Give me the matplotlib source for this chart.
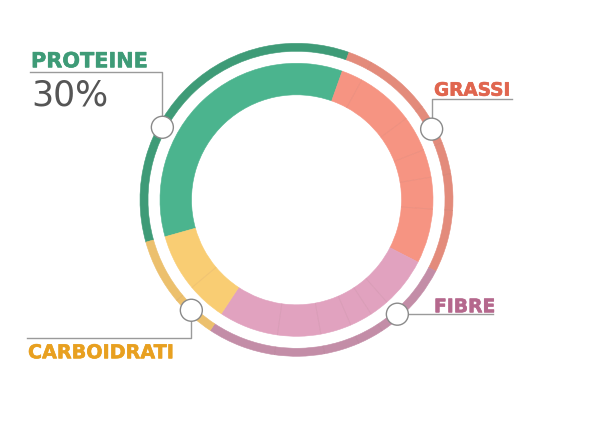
import numpy as np
import matplotlib
matplotlib.use("Agg")
import matplotlib.pyplot as plt
from matplotlib.patches import Circle
import matplotlib.patheffects as pe

# ---- data (shares of the ring, percent) ----
categories = ["PROTEINE", "GRASSI", "FIBRE", "CARBOIDRATI"]
proteine_parts = [34.8]
grassi_parts = [2.5, 6.9, 4.2, 3.3, 3.75, 6.45]
fibre_parts = [5.95, 2.3, 2.7, 3.65, 5.1, 7.05]
carboidrati_parts = [4.6, 6.75]
proteine_label = "30%"

# ---- styling ----
inner_colors = ["#4BB48E", "#F69482", "#E1A2BF", "#F9CD73"]
outer_colors = ["#3E9B77", "#E38B7B", "#C38DA7", "#ECC06D"]
text_colors = ["#3E9B77", "#E0664F", "#B5688D", "#E8A020"]
label_angles = [298.4, 62.4, 138.6, 223.6]   # clockwise from top, label anchor
start_cw = 254.3

W, H = 600, 429
fig = plt.figure(figsize=(6, 4.29), dpi=100)
ax = fig.add_axes([0, 0, 1, 1])
cx, cy = 296.5, H - 199.8

parts = [proteine_parts, grassi_parts, fibre_parts, carboidrati_parts]
vals, icols, ocols, cat_idx = [], [], [], []
for i, p in enumerate(parts):
    for v in p:
        vals.append(v)
        icols.append(inner_colors[i])
        ocols.append(outer_colors[i])
        cat_idx.append(i)
vals = np.array(vals)

r_in_out, r_in_w = 136.5, 31.5
r_out_out, r_out_w = 156.5, 8.0

for radius, width, cols in [(r_in_out, r_in_w, icols), (r_out_out, r_out_w, ocols)]:
    wedges, _ = ax.pie(vals, radius=radius, center=(cx, cy), startangle=90 - start_cw,
                       counterclock=False, colors=cols,
                       wedgeprops=dict(width=width, linewidth=0.4))
    for w, c in zip(wedges, cols):
        w.set_edgecolor(c)

# subtle sub-segment separators
total = vals.sum()
cum = np.cumsum(vals)[:-1]
for k, cval in enumerate(cum):
    if cat_idx[k] != cat_idx[k + 1]:
        continue
    th = np.deg2rad(start_cw + cval / total * 360.0)
    for r0, r1 in [(r_in_out - r_in_w, r_in_out), (r_out_out - r_out_w, r_out_out)]:
        ax.plot([cx + r0 * np.sin(th), cx + r1 * np.sin(th)],
                [cy + r0 * np.cos(th), cy + r1 * np.cos(th)],
                color="#7a4a4a", alpha=0.08, lw=0.7, solid_capstyle="butt")

# label anchors
r_mark = 152.5
line_col = "#9a9a9a"
pts = []
for a in label_angles:
    t = np.deg2rad(a)
    pts.append((cx + r_mark * np.sin(t), cy + r_mark * np.cos(t)))

# leaders
(px, py), (gx, gy), (fx, fy), (kx, ky) = pts
ax.plot([px, px, 30], [py, H - 72.3, H - 72.3], color=line_col, lw=1.0, zorder=3)
ax.plot([gx, gx, 511.7], [gy, H - 99.3, H - 99.3], color=line_col, lw=1.0, zorder=3)
ax.plot([fx, 493.3], [fy, fy], color=line_col, lw=1.0, zorder=3)
ax.plot([kx, kx, 27.3], [ky, H - 338.3, H - 338.3], color=line_col, lw=1.0, zorder=3)

for (x, y) in pts:
    ax.add_patch(Circle((x, y), 11, facecolor="white", edgecolor="#8a8a8a", lw=1.0, zorder=4))

# texts
def label(x, y, s, color, size):
    ax.text(x, y, s, color=color, fontsize=size, fontweight="bold",
            family="DejaVu Sans", ha="left", va="baseline",
            path_effects=[pe.withStroke(linewidth=0.4, foreground=color)])

label(31, H - 67.3, categories[0], text_colors[0], 15)
ax.text(31, H - 105, proteine_label, color="#555555", fontsize=25,
        family="DejaVu Sans", ha="left", va="baseline")
label(434, H - 95.7, categories[1], text_colors[1], 13.3)
label(434, H - 312.3, categories[2], text_colors[2], 13.5)
label(28, H - 358.3, categories[3], text_colors[3], 13.8)

ax.set_xlim(0, W)
ax.set_ylim(0, H)
ax.set_aspect("equal")
ax.axis("off")
fig.savefig("out.png", dpi=100, facecolor="white")
